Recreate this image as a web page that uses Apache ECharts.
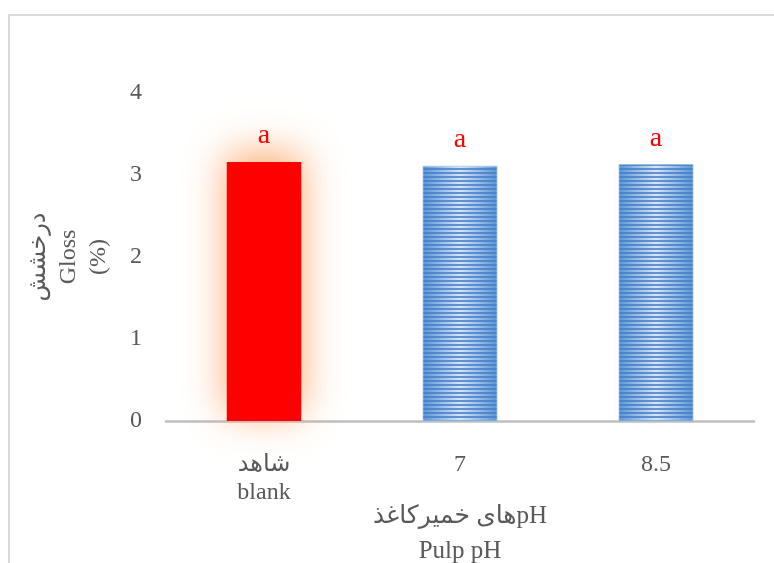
<!DOCTYPE html>
<html>
<head>
<meta charset="utf-8">
<script src="https://cdn.jsdelivr.net/npm/echarts@6/dist/echarts.min.js"></script>
<style>
  html, body { margin: 0; padding: 0; background: #ffffff; }
  #chart { width: 774px; height: 563px; }
</style>
</head>
<body>
<div id="chart"></div>
<script>
// Gloss of handsheets at different pulp pH
const categories = ['شاهد\nblank', '7', '8.5'];
const glossValues = [3.16, 3.11, 3.13];
const groupLetters = ['a', 'a', 'a'];
const yTicks = [0, 1, 2, 3, 4];

const serif = "'Liberation Serif', 'Times New Roman', 'DejaVu Sans', serif";
const textGray = '#595959';

// blue striped fill for the pH treatments
const blueFill = {
  type: 'linear', x: 0, y: 0, x2: 1, y2: 0,
  colorStops: [
    { offset: 0, color: '#5b96d6' },
    { offset: 0.5, color: '#d6e6f7' },
    { offset: 1, color: '#5b96d6' }
  ]
};
const stripes = {
  symbol: 'rect',
  symbolSize: 1,
  color: 'rgba(70, 125, 200, 0.8)',
  dashArrayX: [1, 0],
  dashArrayY: [1.5, 1.5],
  rotation: 0
};

const barData = glossValues.map((v, i) => {
  if (i === 0) {
    return {
      value: v,
      itemStyle: {
        color: '#ff0000',
        shadowBlur: 42,
        shadowColor: 'rgba(250, 170, 110, 1)',
        shadowOffsetY: -8
      }
    };
  }
  return {
    value: v,
    itemStyle: { color: blueFill, decal: stripes, borderColor: '#a9c8ec', borderWidth: 0.5 }
  };
});

const chart = echarts.init(document.getElementById('chart'), null, { renderer: 'canvas' });
chart.setOption({
  backgroundColor: '#ffffff',
  animation: false,
  aria: { enabled: false, decal: { show: false } },
  graphic: [{
    type: 'rect',
    shape: { x: 9, y: 15, width: 820, height: 620 },
    style: { fill: 'none', stroke: '#d9d9d9', lineWidth: 2 },
    silent: true
  }],
  grid: { left: 166, right: 20, top: 93, bottom: 142, outerBoundsMode: 'none', containLabel: false },
  xAxis: {
    type: 'category',
    data: categories,
    name: 'های خمیرکاغذpH\nPulp pH',
    nameLocation: 'middle',
    nameMoveOverlap: false,
    nameGap: 78,
    nameTextStyle: { fontFamily: serif, fontSize: 25, color: textGray, lineHeight: 35 },
    axisLine: { lineStyle: { color: '#bfbfbf', width: 2.5 } },
    axisTick: { show: false },
    axisLabel: { fontFamily: serif, fontSize: 24, color: textGray, margin: 30, lineHeight: 28 }
  },
  yAxis: {
    type: 'value',
    min: 0,
    max: yTicks[yTicks.length - 1],
    interval: 1,
    name: 'درخشش\nGloss\n(%)',
    nameLocation: 'middle',
    nameMoveOverlap: false,
    nameRotate: 90,
    nameGap: 52,
    nameTextStyle: { fontFamily: serif, fontSize: 24, color: textGray, lineHeight: 30 },
    axisLine: { show: false },
    axisTick: { show: false },
    splitLine: { show: false },
    axisLabel: { fontFamily: serif, fontSize: 24, color: textGray, margin: 24 }
  },
  series: [{
    type: 'bar',
    data: barData,
    barWidth: '38%',
    label: {
      show: true,
      position: 'top',
      distance: 12,
      formatter: p => groupLetters[p.dataIndex],
      fontFamily: serif,
      fontSize: 28,
      color: '#ff0000'
    }
  }]
});
</script>
</body>
</html>
